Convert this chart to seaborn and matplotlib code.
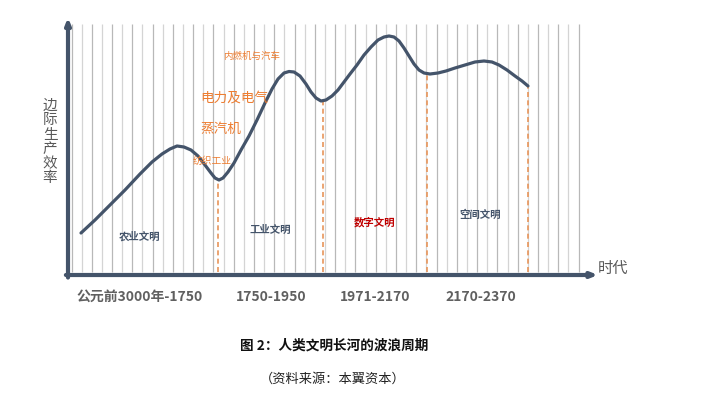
import numpy as np
import pandas as pd
import matplotlib
matplotlib.use("Agg")
import matplotlib.pyplot as plt
import seaborn as sns

# ---- data (x = era scale, y = marginal productivity scale) ----
curve_x = [13, 27, 42, 57, 72, 84, 94, 102, 109, 116,
           123, 130, 137, 143, 147, 151, 155, 160, 166, 173,
           181, 189, 197, 204, 210, 216, 221, 226, 232, 238,
           243, 248, 253, 258, 264, 270, 276, 282, 289, 296,
           303, 310, 316, 321, 326, 331, 336, 341, 346, 351,
           356, 362, 370, 378, 387, 397, 407, 416, 424, 431,
           439, 447, 454, 460]
curve_y = [42, 55, 70, 85, 101, 113, 121, 126, 129, 128,
           125, 119, 110, 102, 97, 95, 97, 103, 112, 125,
           139, 155, 172, 186, 196, 202, 203.5, 203, 199, 191,
           183, 177, 174, 175, 179, 185, 193, 201, 210, 220,
           228, 235, 238, 239, 238, 234, 227, 219, 211, 205,
           202, 201, 202, 204, 207, 210, 213, 214, 213, 210,
           205, 199, 194, 189]

boundary_x = [150, 255, 359, 460]
boundary_y = [95, 174, 202, 189]

era_labels = ["公元前3000年-1750", "1750-1950", "1971-2170", "2170-2370"]
era_label_x = [72, 203, 307, 413]

civ_names = ["农业文明", "工业文明", "数字文明", "空间文明"]
civ_x = [72, 202, 306, 412]
civ_y = [39, 45, 53, 60]
civ_colors = ["#44546a", "#44546a", "#c00000", "#44546a"]

tech_names = ["内燃机与汽车", "电力及电气", "蒸汽机", "纺织工业"]
tech_x = [155, 132, 132, 125]
tech_y = [219, 177, 146, 114]
tech_sizes = [6.8, 9.8, 9.8, 7.0]

n_grid = 51

title = "图 2：人类文明长河的波浪周期"
source = "（资料来源：本翼资本）"
ylabel = "边际生产效率"
xlabel = "时代"

# ---- style ----
sns.set_theme(style="white")
plt.rcParams['font.family'] = ['Noto Sans CJK SC', 'DejaVu Sans']

W, H = 704, 397
fig = plt.figure(figsize=(W / 100, H / 100), dpi=100)
ax = fig.add_axes([68 / W, (H - 275) / H, (598 - 68) / W, (275 - 20) / H])
ax.set_xlim(0, 530)
ax.set_ylim(0, 255)

# vertical grid lines
grid_x = 3.5 + 10.14 * np.arange(n_grid)
for i, gx in enumerate(grid_x):
    col = "#b8b8b8" if i % 2 == 0 else "#d4d4d4"
    ax.vlines(gx, 3, 251, colors=col, linewidth=0.9, zorder=1)

# dashed boundaries
for bx, by in zip(boundary_x, boundary_y):
    ax.vlines(bx, 3, by, colors="#e8955a", linewidth=1.2, linestyles=(0, (3, 2)), zorder=2)

# curve
df = pd.DataFrame({"x": curve_x, "y": curve_y})
sns.lineplot(data=df, x="x", y="y", sort=False, color="#44546a", linewidth=2.3, ax=ax, zorder=3)
ax.set_xlabel("")
ax.set_ylabel("")
ax.axis("off")

# axes with arrows
axis_col = "#44546a"
ax.annotate("", xy=(0, 1.01), xytext=(0, -0.01), xycoords="axes fraction",
            arrowprops=dict(arrowstyle="-|>,head_length=0.3,head_width=0.12", color=axis_col,
                            lw=3.0, shrinkA=0, shrinkB=0), annotation_clip=False)
ax.annotate("", xy=(1.0, 0), xytext=(-0.004, 0), xycoords="axes fraction",
            arrowprops=dict(arrowstyle="-|>,head_length=0.3,head_width=0.12", color=axis_col,
                            lw=3.0, shrinkA=0, shrinkB=0), annotation_clip=False)

# civilization labels
for n, x, y, c in zip(civ_names, civ_x, civ_y, civ_colors):
    ax.text(x, y, n, color=c, fontsize=7.5, fontweight="bold", ha="center", va="center", zorder=4)

# technology labels
for n, x, y, s in zip(tech_names, tech_x, tech_y, tech_sizes):
    ax.text(x, y, n, color="#ed7d31", fontsize=s, ha="left", va="center", zorder=4)

# era labels below axis
for n, x in zip(era_labels, era_label_x):
    ax.text(x, -22, n, color="#606060", fontsize=10, fontweight="bold", ha="center", va="center")

# axis titles
fig.text(50 / W, 1 - 142 / H, "\n".join(ylabel), color="#595959", fontsize=10.5,
         ha="center", va="center", linespacing=1.05)
fig.text(613 / W, 1 - 268 / H, xlabel, color="#595959", fontsize=11, ha="center", va="center")

# caption
fig.text(334 / W, 1 - 346 / H, title, color="#111111", fontsize=9.8, fontweight="bold",
         ha="center", va="center")
fig.text(333 / W, 1 - 379 / H, source, color="#222222", fontsize=9.5, ha="center", va="center")

fig.savefig("out.png", dpi=100, facecolor="white")
